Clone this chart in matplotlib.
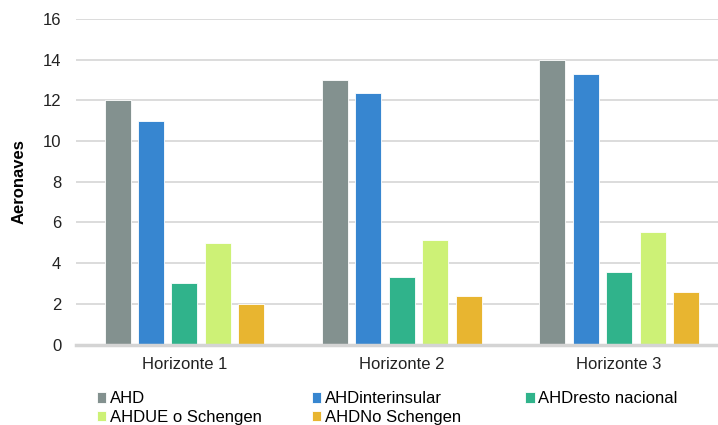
import matplotlib
matplotlib.use("Agg")
import matplotlib.pyplot as plt
import numpy as np

plt.rcParams['font.family'] = ['Liberation Sans', 'DejaVu Sans']

categories = ["Horizonte 1", "Horizonte 2", "Horizonte 3"]
series_names = ["AHD", "AHDinterinsular", "AHDresto nacional",
                "AHDUE o Schengen", "AHDNo Schengen"]
ahd = [12, 13, 14]
ahd_interinsular = [11, 12.35, 13.3]
ahd_resto_nacional = [3, 3.3, 3.55]
ahd_ue_schengen = [5, 5.15, 5.55]
ahd_no_schengen = [2, 2.4, 2.6]
y_ticks = [0, 2, 4, 6, 8, 10, 12, 14, 16]

series_values = [ahd, ahd_interinsular, ahd_resto_nacional,
                 ahd_ue_schengen, ahd_no_schengen]
colors = ["#83918f", "#3786d0", "#30b38b", "#cdf176", "#e8b530"]

FS = 12

fig = plt.figure(figsize=(7.18, 4.25), dpi=100)
ax = fig.add_axes([0.1056, 0.1894, 0.908, 0.766])

x = np.arange(len(categories))
step = 0.1537
width = 0.1196
handles = []
for i, (name, vals, c) in enumerate(zip(series_names, series_values, colors)):
    offs = (i - 2) * step
    b = ax.bar(x + offs, vals, width=width, color=c, edgecolor="white",
               linewidth=0.6, label=name, zorder=3)
    handles.append(b)

ax.set_xlim(-0.5, 2.5)
ax.set_ylim(0, 16)
ax.set_yticks(y_ticks)
ax.set_xticks(x)
ax.set_xticklabels(categories)
ax.tick_params(axis='both', length=0, labelsize=FS, colors="#222222")
ax.tick_params(axis='y', pad=10.5)
ax.tick_params(axis='x', pad=9)
ax.yaxis.grid(True, color="#d9d9d9", linewidth=1.3, zorder=0)
ax.set_axisbelow(True)
for s in ["top", "right", "left"]:
    ax.spines[s].set_visible(False)
ax.spines["bottom"].set_color("#d4d4d4")
ax.spines["bottom"].set_linewidth(2.5)
ax.spines["bottom"].set_zorder(4)

ax.set_ylabel("Aeronaves", fontsize=FS, fontweight="bold", labelpad=11.5)

# legend laid out on a fixed three-column grid
columns = [[0, 3], [1, 4], [2]]
col_x = [97 / 718, 311.7 / 718, 525.3 / 718]
for idx, cx in zip(columns, col_x):
    fig.legend([handles[i] for i in idx], [series_names[i] for i in idx],
               loc="upper left", bbox_to_anchor=(cx, 0.079),
               frameon=False, fontsize=FS, handlelength=0.57,
               handleheight=0.57, handletextpad=0.2,
               labelspacing=0.22, borderpad=0, borderaxespad=0)

fig.savefig("out.png", dpi=100)
